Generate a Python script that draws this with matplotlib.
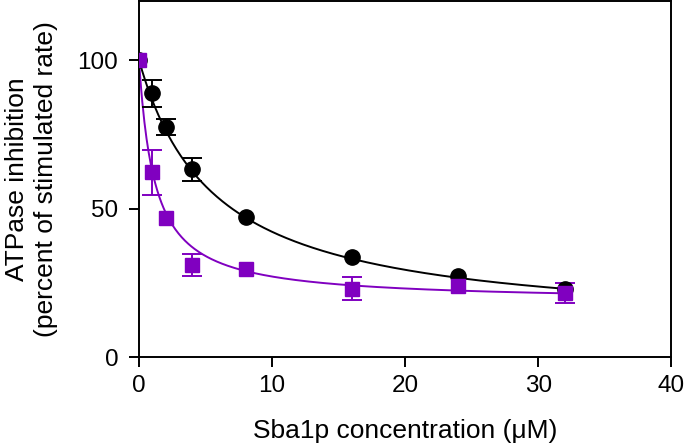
import numpy as np
import matplotlib
matplotlib.use("Agg")
import matplotlib.pyplot as plt

plt.rcParams['font.family'] = ['Liberation Sans', 'DejaVu Sans']

# Data
conc = [0, 1, 2, 4, 8, 16, 24, 32]
black_y = [100, 88.9, 77.4, 63.2, 47.3, 33.8, 27.4, 23.0]
black_err = [0, 4.6, 2.7, 4.0, 0, 0, 0, 0]
purple_y = [100, 62.2, 47.0, 31.0, 29.7, 23.0, 24.0, 21.6]
purple_err = [0, 7.6, 0, 3.7, 0, 3.9, 0, 3.5]

# Hyperbolic fit parameters: y = 100 - A*x/(K+x)
black_fit = (90.7, 5.69)
purple_fit = (81.4, 1.17)

xticks = [0, 10, 20, 30, 40]
yticks = [0, 50, 100]

purple = '#8000C0'

fig = plt.figure(figsize=(6.85, 4.43), dpi=100)
ax = fig.add_axes([0.203, 0.194, 0.777, 0.804])

xf = np.linspace(0, 32, 400)
for (A, K), col in [(black_fit, 'black'), (purple_fit, purple)]:
    ax.plot(xf, 100 - A * xf / (K + xf), color=col, lw=1.4, zorder=2)

def plot_err(y, err, col, marker):
    xs = [c for c, e in zip(conc, err) if e > 0]
    ys = [v for v, e in zip(y, err) if e > 0]
    es = [e for e in err if e > 0]
    ax.errorbar(xs, ys, yerr=es, fmt='none', ecolor=col, elinewidth=1.4,
                capsize=7, capthick=1.4, zorder=3)
    ax.plot(conc, y, linestyle='none', marker=marker, color=col,
            markersize=11 if marker == 'o' else 10, zorder=4)

plot_err(black_y, black_err, 'black', 'o')
plot_err(purple_y, purple_err, purple, 's')

ax.set_xlim(0, 40)
ax.set_ylim(0, 120)
ax.set_xticks(xticks)
ax.set_yticks(yticks)
ax.tick_params(direction='out', length=7, width=1.4, labelsize=17.5)
ax.tick_params(axis='x', pad=6)
ax.tick_params(axis='y', pad=8)
for s in ax.spines.values():
    s.set_linewidth(1.4)
ax.set_xlabel('Sba1p concentration (μM)', fontsize=19)
ax.set_ylabel('ATPase inhibition\n(percent of stimulated rate)', fontsize=19,
              linespacing=1.25)
ax.xaxis.set_label_coords(0.5, -0.175)
ax.yaxis.set_label_coords(-0.152, 0.5)

fig.savefig('out.png', dpi=100)
